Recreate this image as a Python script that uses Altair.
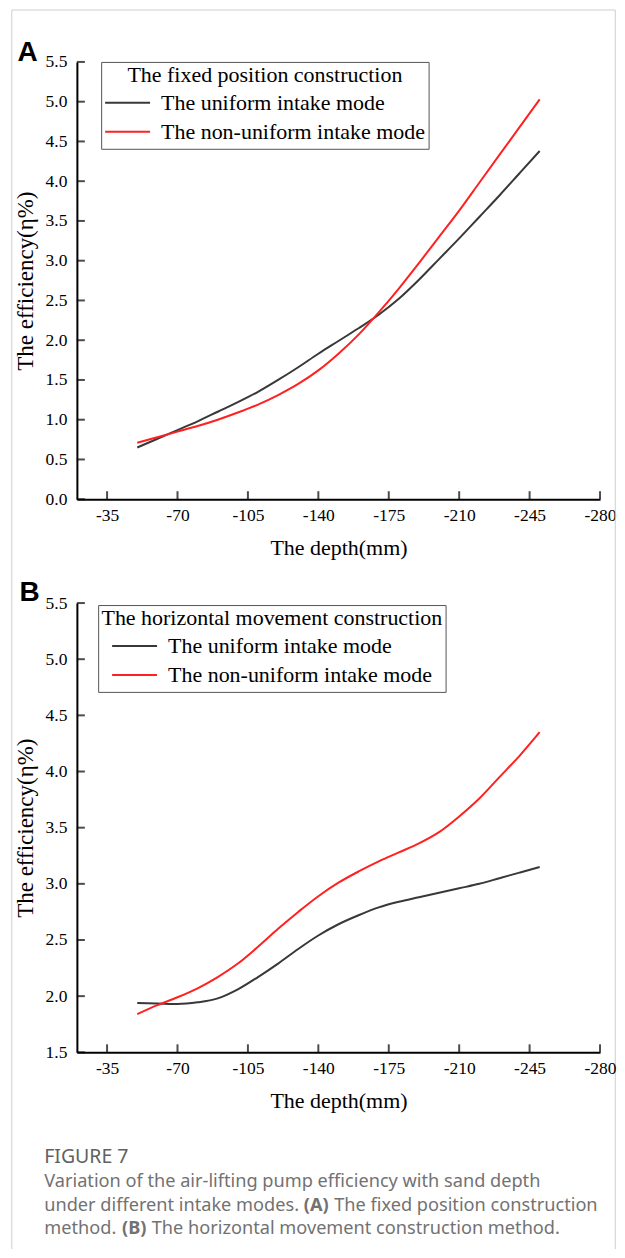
import altair as alt
import pandas as pd

# ---------------- data ----------------
depth = [-50, -60, -70, -80, -90, -100, -110, -120, -130, -140, -150,
         -160, -170, -180, -190, -200, -210, -220, -230, -240, -250]
a_uniform = [0.65, 0.76, 0.87, 0.98, 1.10, 1.22, 1.35, 1.50, 1.66, 1.83, 1.99,
             2.15, 2.32, 2.52, 2.76, 3.02, 3.28, 3.55, 3.82, 4.10, 4.38]
a_nonuniform = [0.71, 0.78, 0.85, 0.92, 1.00, 1.09, 1.19, 1.31, 1.45, 1.62, 1.83,
                2.07, 2.35, 2.65, 2.97, 3.30, 3.63, 3.98, 4.33, 4.68, 5.03]
b_uniform = [1.94, 1.935, 1.93, 1.945, 1.98, 2.06, 2.17, 2.29, 2.42, 2.54, 2.64,
             2.72, 2.79, 2.84, 2.88, 2.92, 2.96, 3.00, 3.05, 3.10, 3.15]
b_nonuniform = [1.84, 1.92, 1.99, 2.07, 2.17, 2.29, 2.44, 2.60, 2.75, 2.89, 3.01,
                3.11, 3.20, 3.28, 3.36, 3.46, 3.60, 3.76, 3.95, 4.14, 4.35]

series_names = ["The uniform intake mode", "The non-uniform intake mode"]
legend_titles = ["The fixed position construction", "The horizontal movement construction"]
x_ticks = [-35, -70, -105, -140, -175, -210, -245, -280]
a_y_ticks = [0.0, 0.5, 1.0, 1.5, 2.0, 2.5, 3.0, 3.5, 4.0, 4.5, 5.0, 5.5]
b_y_ticks = [1.5, 2.0, 2.5, 3.0, 3.5, 4.0, 4.5, 5.0, 5.5]
x_title = "The depth(mm)"
y_title = "The efficiency(η%)"
panel_labels = ["A", "B"]
caption_head = "FIGURE 7"
caption_l1 = "Variation of the air-lifting pump efficiency with sand depth"
caption_l2a = "under different intake modes."
caption_l2b = "(A)"
caption_l2c = "The fixed position construction"
caption_l3a = "method."
caption_l3b = "(B)"
caption_l3c = "The horizontal movement construction method."

# ---------------- style ----------------
SERIF = "Liberation Serif"
SANS = "Noto Sans"
W = 524
HA = 438
HB = 450
COLORS = ["#383838", "#ff2020"]
CAP_COLOR = "#727272"
one = pd.DataFrame({"k": [0]})


def long_df(u, n):
    return pd.DataFrame({
        "depth": depth + depth,
        "eff": u + n,
        "series": [series_names[0]] * len(depth) + [series_names[1]] * len(depth),
    })


def panel(u, n, ltitle, ydom, yticks, legx, legy, height, extras):
    df = long_df(u, n)
    xs = alt.Scale(domain=[-280, -20], reverse=True)
    ys = alt.Scale(domain=ydom)
    lines = alt.Chart(df).mark_line(strokeWidth=2, interpolate="monotone").encode(
        x=alt.X("depth:Q", scale=xs,
                axis=alt.Axis(orient="bottom", values=x_ticks, labelExpr="'-' + abs(datum.value)",
                              ticks=False, tickSize=0, title=x_title, labelPadding=7,
                              labelFlush=False, labelOverlap=False,
                              labelFont=SERIF, labelFontSize=17.5, labelColor="black",
                              titlePadding=14, titleFontSize=22)),
        y=alt.Y("eff:Q", scale=ys,
                axis=alt.Axis(orient="left", values=yticks, format=".1f", ticks=False, tickSize=0,
                              labelFont=SERIF, labelFontSize=17.5, labelColor="black",
                              labelOverlap=False,
                              title=y_title, labelPadding=10, titlePadding=8, titleFontSize=23)),
        color=alt.Color("series:N",
                        scale=alt.Scale(domain=series_names, range=COLORS),
                        legend=alt.Legend(title=ltitle, orient="none", legendX=legx, legendY=legy,
                                          titleFont=SERIF, titleFontSize=22, titleFontWeight="normal",
                                          titleColor="black", titleAnchor="middle", titleLimit=600,
                                          titlePadding=2.5,
                                          labelFont=SERIF, labelFontSize=22, labelColor="black",
                                          labelLimit=600, labelOffset=10,
                                          symbolType="stroke", symbolSize=2025, symbolStrokeWidth=2,
                                          clipHeight=27, rowPadding=2, padding=3,
                                          strokeColor="#555555", fillColor="white")),
    )
    xt = alt.Chart(pd.DataFrame({"t": x_ticks})).mark_tick(
        color="black", thickness=2, size=8, orient="vertical").encode(
        x=alt.X("t:Q", scale=xs, axis=None), y=alt.value(height - 4))
    yt = alt.Chart(pd.DataFrame({"t": yticks})).mark_tick(
        color="black", thickness=2, size=8, orient="horizontal").encode(
        y=alt.Y("t:Q", scale=ys, axis=None), x=alt.value(4))
    return alt.layer(lines, xt, yt, *extras).resolve_axis(
        x="independent", y="independent").properties(width=W, height=height)


def rule(x, y, x2=None, y2=None, color="#cfcfcf"):
    enc = {"x": alt.value(x), "y": alt.value(y)}
    if x2 is not None:
        enc["x2"] = alt.value(x2)
    if y2 is not None:
        enc["y2"] = alt.value(y2)
    return alt.Chart(one).mark_rule(color=color, strokeWidth=1).encode(**enc)


def label(txt, x, y, font, size, color, weight="normal"):
    return alt.Chart(one).mark_text(font=font, fontSize=size, color=color, fontWeight=weight,
                                    align="left", baseline="alphabetic").encode(
        x=alt.value(x), y=alt.value(y), text=alt.value(txt))


FL, FR, FT, FB = -65.2, 539.3, -52, 1189
CS = 18.2
extras_a = [
    rule(FL, FT, y2=FB), rule(FR, FT, y2=FB), rule(FL, FT, x2=FR),
    label(panel_labels[0], -59.5, -0.5, "Liberation Sans", 28, "black", "bold"),
]
extras_b = [
    label(panel_labels[1], -57.5, -2, "Liberation Sans", 28, "black", "bold"),
    label(caption_head, -32.7, 561, SANS, 19.5, "#616161", "normal"),
    label(caption_l1, -32.7, 585, SANS, CS, CAP_COLOR),
    label(caption_l2a, -32.7, 608.5, SANS, CS, CAP_COLOR),
    label(caption_l2b, 227.3, 608.5, SANS, CS, CAP_COLOR, "bold"),
    label(caption_l2c, 257.8, 608.5, SANS, CS, CAP_COLOR),
    label(caption_l3a, -32.7, 632, SANS, CS, CAP_COLOR),
    label(caption_l3b, 45.3, 632, SANS, CS, CAP_COLOR, "bold"),
    label(caption_l3c, 75.0, 632, SANS, CS, CAP_COLOR),
]

pa = panel(a_uniform, a_nonuniform, legend_titles[0], [0, 5.5], a_y_ticks, 24.3, 0, HA, extras_a)
pb = panel(b_uniform, b_nonuniform, legend_titles[1], [1.5, 5.5], b_y_ticks, 21.3, 2, HB, extras_b)

chart = alt.vconcat(pa, pb, spacing=104, bounds="flush").resolve_scale(
    color="independent").resolve_legend(color="independent").properties(
    padding={"left": 3, "top": 0, "right": 0, "bottom": 0}
).configure_view(stroke=None).configure_axis(
    labelFont=SERIF, labelFontSize=17.5, labelColor="black",
    titleFont=SERIF, titleFontWeight="normal", titleColor="black",
    domainColor="black", domainWidth=2, grid=False,
)

chart.save("out.html", embed_options={"renderer": "svg", "actions": False})
